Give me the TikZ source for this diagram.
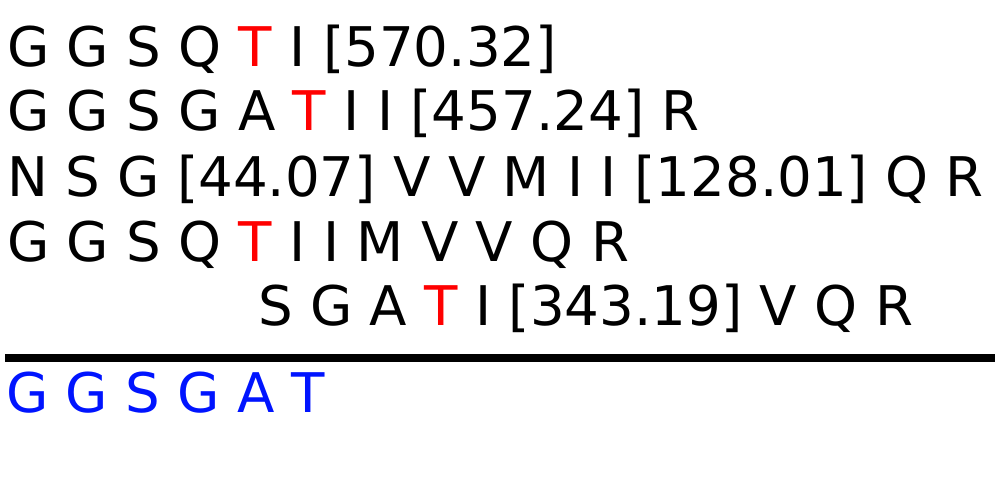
\documentclass[tikz,border=0pt]{standalone}
\usepackage{fontspec}
\setmainfont{DejaVu Sans}
\definecolor{hired}{RGB}{255,0,0}
\definecolor{refblue}{RGB}{0,20,255}
\begin{document}
\begin{tikzpicture}[x=1pt,y=1pt,
  seqrow/.style={anchor=base west,inner sep=0pt,outer sep=0pt,font=\fontsize{54.65}{66}\selectfont}]
\useasboundingbox (0,0) rectangle (1000,500);
\node[seqrow] (r1) at (7,433.5) {G G S Q \textcolor{hired}{T} I [570.32]};
\node[seqrow] (r2) at (7,369) {G G S G A \textcolor{hired}{T} I I [457.24] R};
\node[seqrow] (r3) at (7,303.5) {N S G [44.07] V V M I I [128.01] Q R};
\node[seqrow] (r4) at (7,238.3) {G G S Q \textcolor{hired}{T} I I M V V Q R};
\node[seqrow] (r5) at (258,174) {S G A \textcolor{hired}{T} I [343.19] V Q R};
\coordinate (la) at (5,142);
\coordinate (lb) at (995,142);
\draw[line width=8pt] (la) -- (lb);
\node[seqrow,text=refblue] (cons) at (6,87) {G G S G A T};
\end{tikzpicture}
\end{document}
